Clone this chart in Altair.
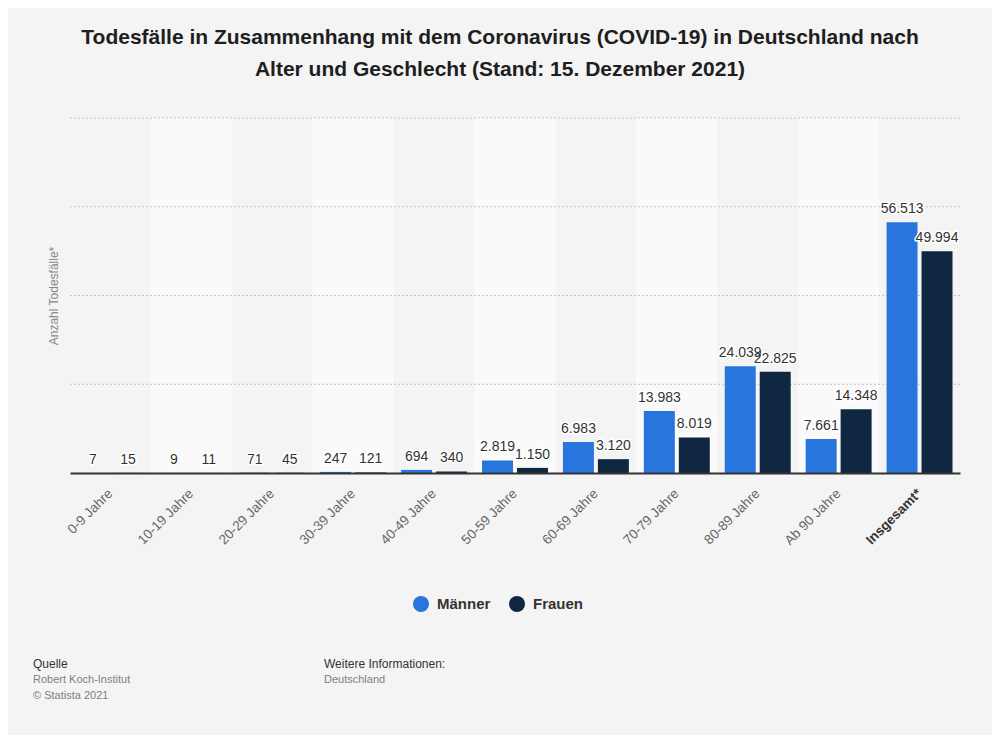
import altair as alt
import pandas as pd

categories = ["0-9 Jahre", "10-19 Jahre", "20-29 Jahre", "30-39 Jahre", "40-49 Jahre",
              "50-59 Jahre", "60-69 Jahre", "70-79 Jahre", "80-89 Jahre", "Ab 90 Jahre", "Insgesamt*"]
maenner = [7, 9, 71, 247, 694, 2819, 6983, 13983, 24039, 7661, 56513]
frauen = [15, 11, 45, 121, 340, 1150, 3120, 8019, 22825, 14348, 49994]
series = ["Männer", "Frauen"]
colors = ["#2876dd", "#0f2741"]
grid_values = [20000, 40000, 60000, 80000]

title_lines = ["Todesfälle in Zusammenhang mit dem Coronavirus (COVID-19) in Deutschland nach",
               "Alter und Geschlecht (Stand: 15. Dezember 2021)"]

FONT = "Liberation Sans"


def fmt(v):
    return f"{v:,}".replace(",", ".")


rows = []
for i, c in enumerate(categories):
    rows.append({"Kategorie": c, "Geschlecht": "Männer", "Wert": maenner[i], "Label": fmt(maenner[i])})
    rows.append({"Kategorie": c, "Geschlecht": "Frauen", "Wert": frauen[i], "Label": fmt(frauen[i])})
df = pd.DataFrame(rows)
bands = pd.DataFrame({"Kategorie": [c for i, c in enumerate(categories) if i % 2 == 1]})
grid = pd.DataFrame({"Wert": grid_values})
one = pd.DataFrame({"a": [0]})

x_enc = alt.X(
    "Kategorie:N",
    sort=categories,
    scale=alt.Scale(domain=categories, paddingInner=0, paddingOuter=0),
    axis=alt.Axis(
        title=None, labelAngle=-45, labelAlign="right", labelBaseline="middle",
        labelFontSize=13.5, labelFont=FONT,
        labelColor={"expr": "datum.value == 'Insgesamt*' ? '#333333' : '#666666'"},
        labelFontWeight={"expr": "datum.value == 'Insgesamt*' ? 'bold' : 'normal'"},
        ticks=False, domainColor="#333333", domainWidth=2, labelPadding=18,
        zindex=1, grid=False,
    ),
)
y_scale = alt.Scale(domain=[0, 80000], nice=False)
y_enc = alt.Y(
    "Wert:Q", scale=y_scale,
    axis=alt.Axis(title="Anzahl Todesfälle*", labels=False, ticks=False, domain=False, grid=False,
                  titleFontSize=12, titleColor="#888888", titleFontWeight="normal", titleFont=FONT,
                  titlePadding=10),
)
xoff = alt.XOffset("Geschlecht:N", sort=series,
                   scale=alt.Scale(domain=series, paddingInner=0.114, paddingOuter=0.214))

band_layer = alt.Chart(bands).mark_rect(color="#fafafa").encode(x=x_enc)

grid_layer = alt.Chart(grid).mark_rule(color="#c4c4c4", strokeDash=[2, 2], strokeWidth=1).encode(
    y=y_enc
)

bars = alt.Chart(df).mark_bar().encode(
    x=x_enc,
    xOffset=xoff,
    y=y_enc,
    color=alt.Color(
        "Geschlecht:N",
        scale=alt.Scale(domain=series, range=colors),
        legend=alt.Legend(
            title=None, orient="none", legendX=343, legendY=478, direction="horizontal",
            symbolType="circle", symbolSize=256, symbolStrokeWidth=0, labelFontSize=15,
            labelFontWeight="bold", labelColor="#333333", labelFont=FONT, labelOffset=8,
            columnPadding=18, padding=0,
        ),
    ),
)

halo = alt.Chart(df).mark_text(
    baseline="alphabetic", dy=-9, fontSize=14, font=FONT, stroke="#ffffff",
    strokeWidth=3, strokeJoin="round", fill="#ffffff",
).encode(x=x_enc, xOffset=xoff, y=y_enc, text="Label:N")

labels = alt.Chart(df).mark_text(
    baseline="alphabetic", dy=-9, fontSize=14, font=FONT, color="#333333",
).encode(x=x_enc, xOffset=xoff, y=y_enc, text="Label:N")

quelle = alt.Chart(one).mark_text(
    text="Quelle", align="left", baseline="middle", fontSize=12, font=FONT, color="#333333"
).encode(x=alt.value(-37), y=alt.value(546))
quelle_txt = alt.Chart(one).mark_text(
    text="Robert Koch-Institut\n© Statista 2021", lineBreak="\n", lineHeight=16,
    align="left", baseline="top", fontSize=11, font=FONT, color="#808080"
).encode(x=alt.value(-37), y=alt.value(556))
info = alt.Chart(one).mark_text(
    text="Weitere Informationen:", align="left", baseline="middle", fontSize=12, font=FONT,
    color="#333333"
).encode(x=alt.value(254), y=alt.value(546))
info_txt = alt.Chart(one).mark_text(
    text="Deutschland", align="left", baseline="top", fontSize=11, font=FONT, color="#808080"
).encode(x=alt.value(254), y=alt.value(556))

chart = alt.layer(
    band_layer, grid_layer, bars, halo, labels, quelle, quelle_txt, info, info_txt
).properties(
    width=890,
    height=355,
    autosize=alt.AutoSizeParams(type="none"),
    padding={"left": 62, "top": 110, "right": 32, "bottom": 262},
    background="#f4f4f4",
    title=alt.TitleParams(
        text=title_lines, anchor="middle", frame="group", dx=-15, offset=38,
        fontSize=21, fontWeight="bold", color="#1e1e1e", font=FONT, lineHeight=32,
    ),
).configure_view(stroke=None).resolve_scale(y="shared")

chart.save("out.html", embed_options={"renderer": "svg", "actions": False})
